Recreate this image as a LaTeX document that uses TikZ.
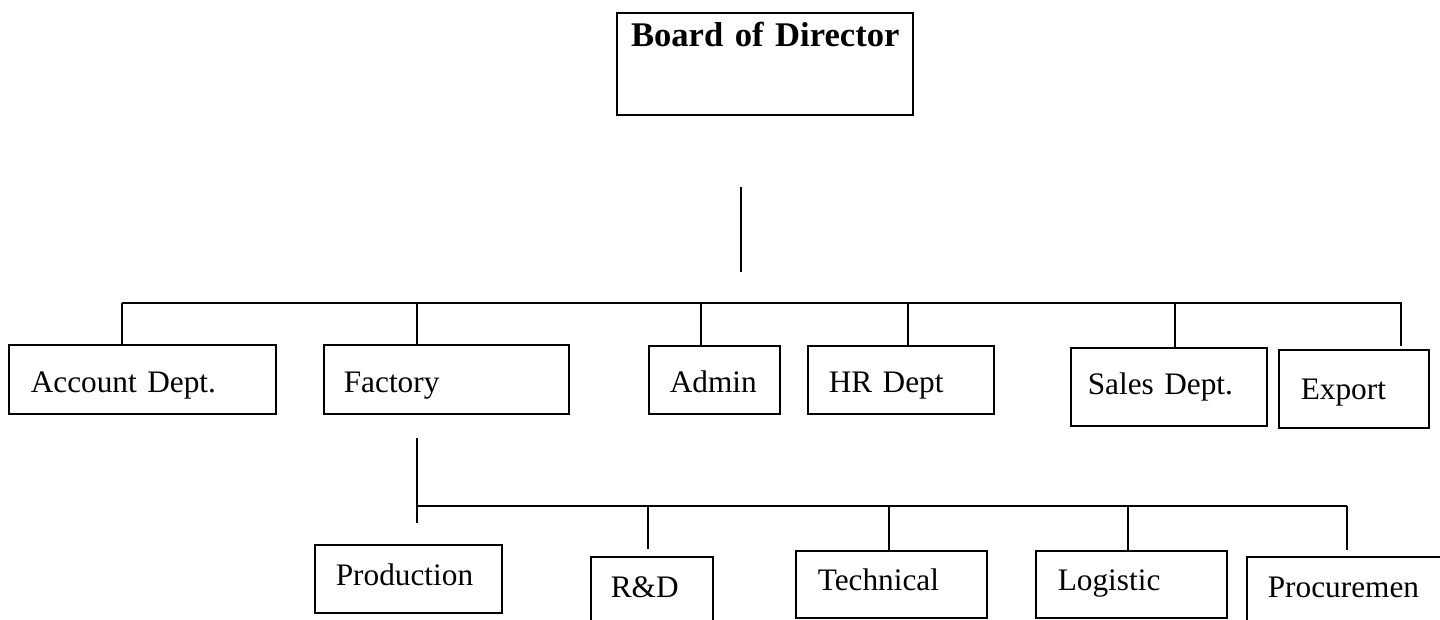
\documentclass[tikz,border=0pt]{standalone}
\usepackage{fontspec}
\setmainfont{Liberation Serif}
\tikzset{
  box/.style={draw, line width=1.6pt, rectangle, anchor=north west, inner ysep=0pt, align=left,
    font=\fontsize{31.3}{36}\selectfont},
  conn/.style={line width=2pt},
}
\begin{document}
\begin{tikzpicture}[x=1pt,y=-1pt]
\useasboundingbox (0,0) rectangle (1440,620);
\clip (0,0) rectangle (1440,620);
% top
\node[box, line width=2.4pt, align=center, inner xsep=0pt, text width=296pt, text height=33pt, text depth=69pt,
  font={\fontsize{34.6}{40}\selectfont\bfseries}] (bod) at (616,12) {Board of Director};
% first level
\node[box, inner xsep=22pt, text width=223pt, text height=48pt, text depth=21pt] (acc) at (8,344) {Account Dept.};
\node[box, inner xsep=20pt, text width=205pt, text height=48pt, text depth=21pt] (fac) at (323,344) {Factory};
\node[box, inner xsep=21pt, text width=89pt, text height=47pt, text depth=21pt] (adm) at (648,345) {Admin};
\node[box, inner xsep=21pt, text width=144pt, text height=47pt, text depth=21pt] (hr) at (807,345) {HR Dept};
\node[box, inner xsep=17pt, text width=162pt, text height=47pt, text depth=31pt] (sal) at (1070,347) {Sales Dept.};
\node[box, inner xsep=22pt, text width=106pt, text height=50pt, text depth=28pt] (exp) at (1278,349) {Export};
% second level
\node[box, inner xsep=21pt, text width=145pt, text height=41pt, text depth=27pt] (pro) at (314,544) {Production};
\node[box, inner xsep=20pt, text width=82pt, text height=41pt, text depth=40pt] (rd) at (590,556) {R\&D};
\node[box, inner xsep=22pt, text width=147pt, text height=40pt, text depth=27pt] (tec) at (795,550) {Technical};
\node[box, inner xsep=22pt, text width=147pt, text height=40pt, text depth=27pt] (log) at (1035,550) {Logistic};
\node[box, inner xsep=21pt, text width=158pt, text height=41pt, text depth=40pt] (prc) at (1246,556) {Procuremen};
% connector points
\coordinate (t1) at (741,187);
\coordinate (t2) at (741,272);
\coordinate (b1) at (122,303);
\coordinate (b2) at (417,303);
\coordinate (b3) at (701,303);
\coordinate (b4) at (908,303);
\coordinate (b5) at (1175,303);
\coordinate (b6) at (1401,303);
\coordinate (bend) at (1402,303);
\coordinate (f1) at (417,438);
\coordinate (f2) at (417,523);
\coordinate (s0) at (417,506);
\coordinate (s1) at (648,506);
\coordinate (s2) at (889,506);
\coordinate (s3) at (1128,506);
\coordinate (s4) at (1347,506);
% lines
\draw[conn] (t1) -- (t2);
\draw[conn] (b1) -- (bend);
\draw[conn] (b1) -- (b1 |- acc.north);
\draw[conn] (b2) -- (b2 |- fac.north);
\draw[conn] (b3) -- (b3 |- adm.north);
\draw[conn] (b4) -- (b4 |- hr.north);
\draw[conn] (b5) -- (b5 |- sal.north);
\draw[conn] (b6) -- ([yshift=3pt]b6 |- exp.north);
\draw[conn] (f1) -- (f2);
\draw[conn, line width=2.4pt] (s0) -- (s4);
\draw[conn] (s1) -- ([yshift=7pt]s1 |- rd.north);
\draw[conn] (s2) -- (s2 |- tec.north);
\draw[conn] (s3) -- (s3 |- log.north);
\draw[conn, line width=2.4pt] (s4) -- ([yshift=6pt]s4 |- prc.north);
\end{tikzpicture}
\end{document}
